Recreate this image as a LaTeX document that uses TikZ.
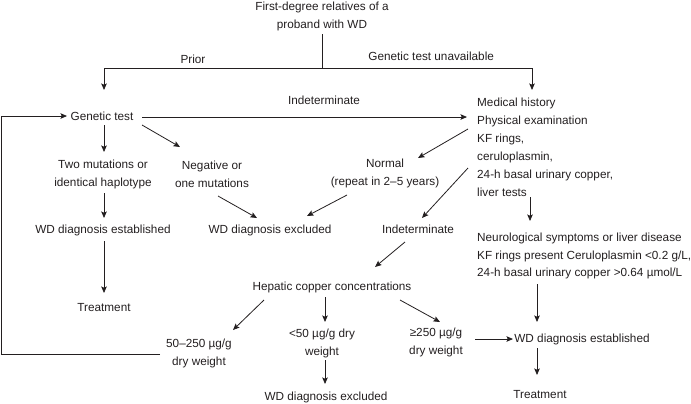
\documentclass[tikz,border=0pt]{standalone}
\usepackage{fontspec}
\setmainfont{Liberation Sans}
\usetikzlibrary{arrows.meta,calc}
\definecolor{tc}{HTML}{231F20}
\begin{document}
\begin{tikzpicture}[x=1bp,y=-1bp,
 every node/.style={font=\fontsize{11.8}{18}\selectfont, text=tc, inner sep=0pt},
 txt/.style={align=center},
 blk/.style={align=left, anchor=west},
 ln/.style={draw=tc, line width=0.8bp},
 arr/.style={ln, -{Stealth[length=6.5bp,width=5.5bp,inset=1.2bp]}},
]
\useasboundingbox (0,0) rectangle (691,403);
% nodes
\node[txt] (first) at (322,16) {First-degree relatives of a\\proband with WD};
\coordinate (split) at (322,68);
\node (gen) at (102,116) {Genetic test};
\node[blk] (med) at (477,147.5) {Medical history\\Physical examination\\KF rings,\\ceruloplasmin,\\24-h basal urinary copper,\\liver tests};
\node[txt] (two) at (103,174) {Two mutations or\\identical haplotype};
\node[txt] (neg) at (212,174) {Negative or\\one mutations};
\node[txt] (normal) at (385,173) {Normal\\(repeat in 2–5 years)};
\node (wdest1) at (103,230) {WD diagnosis established};
\node (wdexc1) at (270,230) {WD diagnosis excluded};
\node (indet) at (418,229) {Indeterminate};
\node[blk] (neuro) at (477,256) {Neurological symptoms or liver disease\\KF rings present Ceruloplasmin <0.2 g/L,\\24-h basal urinary copper >0.64 µmol/L};
\node (treat1) at (104,308) {Treatment};
\node (hep) at (332,287) {Hepatic copper concentrations};
\node[txt] (r1) at (199,353) {50–250 µg/g\\dry weight};
\node[txt] (r2) at (322,343) {<50 µg/g dry\\weight};
\node[txt] (r3) at (436,342) {≥250 µg/g\\dry weight};
\node (wdest2) at (582,339) {WD diagnosis established};
\node (treat2) at (540,395) {Treatment};
\node (wdexc2) at (326,397) {WD diagnosis excluded};
\coordinate (loopstart) at ([shift={(-39,1)}]r1.center);
\coordinate (loopx) at (1.5,0);
% top split
\draw[ln] ([shift={(0,18)}]first.center) -- (split);
\draw[arr] (split) -| ([shift={(2,-26)}]gen.center) node[pos=0.296, above=4bp] (prior) {Prior};
\draw[arr] (split) -| ([shift={(55,-57.5)}]med.west) node[pos=0.26, above=7bp] (unav) {Genetic test unavailable};
% genetic test branch
\draw[arr] ([shift={(40,1)}]gen.center) -- ([shift={(-10,-30.5)}]med.west) node[pos=0.56, above=12bp] (indlab) {Indeterminate};
\draw[arr] ([shift={(2,9)}]gen.center) -- ([shift={(1,-22)}]two.center);
\draw[arr] ([shift={(40,9)}]gen.center) -- ([shift={(-32,-27)}]neg.center);
\draw[arr] ([shift={(1,19)}]two.center) -- ([shift={(1,-12)}]wdest1.center);
\draw[arr] ([shift={(1,11)}]wdest1.center) -- ([shift={(0,-15)}]treat1.center);
\draw[arr] ([shift={(6,22)}]neg.center) -- ([shift={(-13,-12)}]wdexc1.center);
% medical branch
\draw[arr] ([shift={(-9,-18.5)}]med.west) -- ([shift={(33,-15)}]normal.center);
\draw[arr] ([shift={(-38,22)}]normal.center) -- ([shift={(37,-14)}]wdexc1.center);
\draw[arr] ([shift={(-9,20.5)}]med.west) -- ([shift={(4,-11)}]indet.center);
\draw[arr] ([shift={(-13,13)}]indet.center) -- ([shift={(43,-20)}]hep.center);
\draw[arr] ([shift={(53,49.5)}]med.west) -- ([shift={(53,-35)}]neuro.west);
\draw[arr] ([shift={(60,28)}]neuro.west) -- ([shift={(-45,-17)}]wdest2.center);
\draw[arr] ([shift={(-45,9)}]wdest2.center) -- ([shift={(-3,-20)}]treat2.center);
% hepatic copper
\draw[arr] ([shift={(-68,13)}]hep.center) -- ([shift={(34,-23)}]r1.center);
\draw[arr] ([shift={(-7,10)}]hep.center) -- ([shift={(3,-21)}]r2.center);
\draw[arr] ([shift={(68,13)}]hep.center) -- ([shift={(4,-20)}]r3.center);
\draw[arr] ([shift={(3,17)}]r2.center) -- ([shift={(-1,-13)}]wdexc2.center);
\draw[arr] ([shift={(39,-3)}]r3.center) -- ([shift={(-69,0)}]wdest2.center);
% loop back
\draw[arr] (loopstart) -- (loopstart -| loopx) |- ([shift={(-35,0)}]gen.center);
\end{tikzpicture}
\end{document}
